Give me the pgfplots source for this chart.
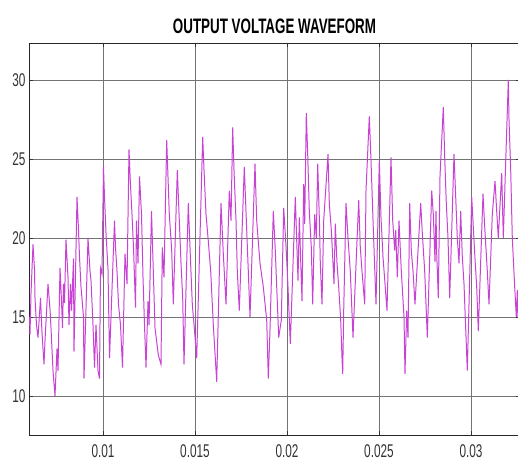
\documentclass[border=0pt]{standalone}
\usepackage{fontspec}
\setmainfont{Liberation Sans}[FakeStretch=0.64]
\usepackage{pgfplots}
\pgfplotsset{compat=1.18}
\usetikzlibrary{calc}
\definecolor{wave}{RGB}{200,66,212}
\begin{document}
\begin{tikzpicture}
\begin{axis}[
  scale only axis, width=491bp, height=392bp,
  xmin=0.005978, xmax=0.0326631,
  ymin=7.53, ymax=32.34,
  scaled x ticks=false, scaled y ticks=false,
  xtick={0.01,0.015,0.02,0.025,0.03},
  xticklabels={0.01,0.015,0.02,0.025,0.03},
  ytick={10,15,20,25,30},
  yticklabels={10,15,20,25,30},
  grid=major,
  major grid style={black!55, line width=0.6pt},
  axis line style={black!85, line width=0.9pt},
  tick align=inside, major tick length=4bp,
  tick style={black!80, line width=0.6pt},
  title={OUTPUT VOLTAGE WAVEFORM},
  title style={font=\bfseries\fontsize{21}{22}\selectfont, yshift=0bp},
  tick label style={font=\fontsize{18.5}{19}\selectfont, text=black!80},
  xticklabel style={yshift=-6bp},
  clip=true,
]
\addplot[sharp plot, color=wave, line width=1pt, line join=miter] table[row sep=\\] {
t v\\
0.0060055 15.0\\
0.0060326 13.9\\
0.0060870 16.5\\
0.0061957 19.6\\
0.0062772 18.0\\
0.0063044 16.2\\
0.0063859 14.5\\
0.0064674 13.7\\
0.0066033 16.2\\
0.0066848 14.0\\
0.0067935 12.0\\
0.0068479 13.5\\
0.0070109 17.1\\
0.0071196 15.5\\
0.0071739 14.3\\
0.0072826 11.6\\
0.0073913 10.0\\
0.0075000 13.0\\
0.0075544 11.6\\
0.0076631 18.1\\
0.0077446 16.0\\
0.0077989 14.3\\
0.0078533 17.1\\
0.0079076 15.9\\
0.0079892 19.9\\
0.0080979 17.5\\
0.0081522 14.5\\
0.0082337 17.1\\
0.0082881 15.4\\
0.0083968 18.7\\
0.0084239 12.8\\
0.0085870 22.6\\
0.0086685 20.5\\
0.0087229 18.8\\
0.0088044 16.9\\
0.0089402 15.0\\
0.0089674 11.1\\
0.0091848 20.0\\
0.0092935 17.9\\
0.0093479 17.3\\
0.0094566 14.5\\
0.0095381 11.8\\
0.0096196 14.5\\
0.0097283 11.6\\
0.0098098 11.1\\
0.0098642 18.1\\
0.0099457 17.7\\
0.0100272 24.5\\
0.0100816 22.6\\
0.0101631 20.3\\
0.0102718 18.0\\
0.0103533 12.4\\
0.0106250 21.1\\
0.0106794 19.4\\
0.0107609 17.9\\
0.0108424 15.8\\
0.0109511 14.5\\
0.0110598 11.8\\
0.0111957 19.0\\
0.0113044 17.1\\
0.0114131 25.6\\
0.0114946 23.3\\
0.0115761 21.5\\
0.0116576 19.4\\
0.0117663 15.6\\
0.0118207 21.1\\
0.0119022 18.4\\
0.0119837 23.9\\
0.0120924 21.5\\
0.0121739 17.5\\
0.0122555 14.5\\
0.0123370 11.8\\
0.0124457 16.0\\
0.0125000 14.5\\
0.0126359 21.7\\
0.0128261 14.3\\
0.0130055 12.6\\
0.0131522 12.0\\
0.0132229 19.4\\
0.0133152 17.5\\
0.0134620 26.2\\
0.0136033 21.5\\
0.0137337 19.2\\
0.0138207 15.8\\
0.0140381 24.3\\
0.0141468 21.1\\
0.0142392 18.4\\
0.0143316 16.2\\
0.0144022 12.0\\
0.0146359 22.2\\
0.0147283 19.4\\
0.0148533 15.8\\
0.0149620 14.3\\
0.0150924 12.4\\
0.0154185 26.4\\
0.0154892 24.3\\
0.0155979 21.5\\
0.0157229 19.8\\
0.0158533 17.9\\
0.0159946 14.5\\
0.0161794 10.9\\
0.0164131 22.2\\
0.0165381 19.0\\
0.0166848 15.8\\
0.0168642 23.0\\
0.0169566 21.1\\
0.0170489 27.0\\
0.0171196 24.3\\
0.0172283 21.1\\
0.0172989 17.9\\
0.0174076 15.4\\
0.0176794 24.5\\
0.0178098 20.5\\
0.0178968 17.9\\
0.0179892 15.0\\
0.0182609 24.7\\
0.0183533 21.1\\
0.0185326 18.4\\
0.0187120 16.9\\
0.0188968 14.8\\
0.0189837 11.1\\
0.0190761 14.2\\
0.0192555 21.7\\
0.0193642 19.2\\
0.0195489 13.7\\
0.0196902 14.8\\
0.0198207 21.9\\
0.0199457 19.5\\
0.0200544 16.9\\
0.0201794 13.3\\
0.0204511 22.6\\
0.0205979 17.3\\
0.0206685 21.3\\
0.0208152 16.0\\
0.0209076 23.4\\
0.0209620 20.9\\
0.0210489 27.9\\
0.0211250 25.3\\
0.0212120 21.7\\
0.0213207 19.4\\
0.0213968 15.8\\
0.0215055 21.5\\
0.0215924 20.0\\
0.0216685 24.7\\
0.0217663 20.9\\
0.0218098 18.4\\
0.0219022 15.8\\
0.0219946 21.1\\
0.0222283 25.3\\
0.0222989 22.2\\
0.0224076 20.5\\
0.0224837 18.8\\
0.0225544 17.1\\
0.0226250 20.9\\
0.0227174 18.4\\
0.0228098 16.9\\
0.0229185 14.8\\
0.0229892 12.4\\
0.0230272 11.4\\
0.0230816 15.4\\
0.0232066 22.2\\
0.0233152 20.0\\
0.0234402 17.9\\
0.0235870 13.7\\
0.0238968 22.4\\
0.0239837 19.4\\
0.0240761 17.9\\
0.0242229 15.8\\
0.0242935 23.0\\
0.0244729 27.7\\
0.0245652 24.9\\
0.0246576 21.7\\
0.0247446 18.8\\
0.0248370 15.8\\
0.0250163 24.9\\
0.0251087 21.3\\
0.0252174 18.8\\
0.0254348 15.4\\
0.0256522 25.1\\
0.0257446 21.1\\
0.0258533 19.2\\
0.0259076 20.5\\
0.0259946 17.5\\
0.0260870 21.1\\
0.0262120 17.9\\
0.0263587 15.0\\
0.0264131 11.4\\
0.0265055 15.4\\
0.0265761 13.7\\
0.0266685 22.2\\
0.0267555 19.2\\
0.0268479 17.9\\
0.0269566 15.8\\
0.0272663 22.2\\
0.0273533 20.3\\
0.0274837 17.9\\
0.0276250 13.7\\
0.0278642 23.0\\
0.0279511 21.5\\
0.0280435 18.5\\
0.0280978 21.7\\
0.0281359 19.0\\
0.0282229 16.2\\
0.0283152 23.9\\
0.0284946 28.3\\
0.0285707 25.1\\
0.0286576 22.2\\
0.0287500 20.0\\
0.0288424 16.2\\
0.0290761 25.3\\
0.0291685 22.6\\
0.0292555 20.0\\
0.0293479 18.4\\
0.0294402 21.7\\
0.0295272 18.8\\
0.0296196 17.1\\
0.0297989 11.6\\
0.0298913 15.8\\
0.0300381 22.6\\
0.0301250 20.7\\
0.0302011 19.0\\
0.0303098 16.9\\
0.0303968 14.1\\
0.0306522 22.8\\
0.0307446 20.7\\
0.0308859 17.9\\
0.0309783 15.8\\
0.0311576 21.5\\
0.0313044 23.6\\
0.0313968 21.7\\
0.0314837 20.0\\
0.0316685 24.1\\
0.0317555 20.0\\
0.0320272 30.0\\
0.0320652 27.5\\
0.0321576 24.3\\
0.0322446 20.0\\
0.0323750 16.9\\
0.0324631 15.0\\
0.0325174 16.7\\
0.0325544 15.0\\
};
\end{axis}
\pgfresetboundingbox
\useasboundingbox ($(current axis.south west)+(-29bp,-30bp)$) rectangle ($(current axis.north west)+(489bp,43bp)$);
\end{tikzpicture}
\end{document}
